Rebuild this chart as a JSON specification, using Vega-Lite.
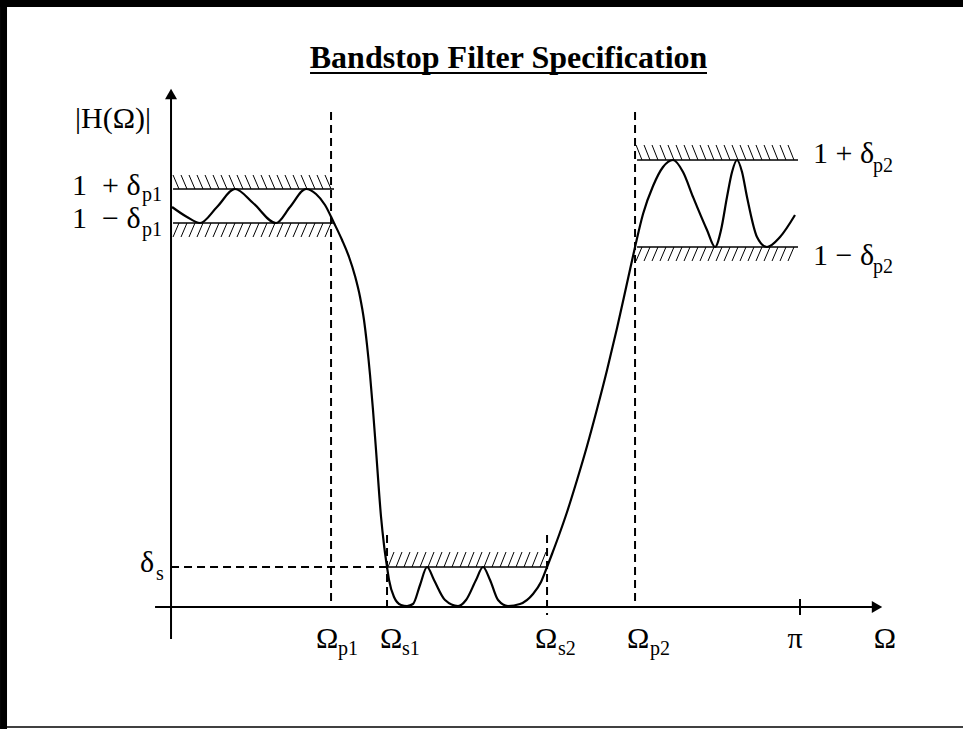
{
  "$schema": "https://vega.github.io/schema/vega-lite/v6.json",
  "width": 963,
  "height": 729,
  "autosize": "none",
  "padding": 0,
  "background": "white",
  "config": {"view": {"stroke": null}},
  "datasets": {
    "curve": [
      {"u": 0.0016, "h": 1.0}, {"u": 0.0254, "h": 0.975}, {"u": 0.0461, "h": 0.96}, {"u": 0.0731, "h": 1.0},
      {"u": 0.1017, "h": 1.045}, {"u": 0.1304, "h": 1.01}, {"u": 0.1669, "h": 0.96}, {"u": 0.1892, "h": 1.0},
      {"u": 0.2146, "h": 1.045}, {"u": 0.2305, "h": 1.0325}, {"u": 0.2448, "h": 1.005}, {"u": 0.2591, "h": 0.96},
      {"u": 0.2719, "h": 0.9175}, {"u": 0.283, "h": 0.875}, {"u": 0.2925, "h": 0.8275}, {"u": 0.3005, "h": 0.775},
      {"u": 0.3068, "h": 0.7175}, {"u": 0.3116, "h": 0.655}, {"u": 0.3164, "h": 0.58}, {"u": 0.3211, "h": 0.4925},
      {"u": 0.3259, "h": 0.3925}, {"u": 0.3339, "h": 0.225}, {"u": 0.3386, "h": 0.155}, {"u": 0.3434, "h": 0.1},
      {"u": 0.3466, "h": 0.0675}, {"u": 0.3545, "h": 0.025}, {"u": 0.3657, "h": 0.005}, {"u": 0.3752, "h": 0.0025},
      {"u": 0.3847, "h": 0.0075}, {"u": 0.3959, "h": 0.055}, {"u": 0.407, "h": 0.1}, {"u": 0.4181, "h": 0.0675},
      {"u": 0.4356, "h": 0.0175}, {"u": 0.4563, "h": 0.0025}, {"u": 0.469, "h": 0.0175}, {"u": 0.4849, "h": 0.0675},
      {"u": 0.496, "h": 0.1}, {"u": 0.5072, "h": 0.0675}, {"u": 0.5199, "h": 0.0175}, {"u": 0.5358, "h": 0.0025},
      {"u": 0.5548, "h": 0.0075}, {"u": 0.5755, "h": 0.0325}, {"u": 0.5882, "h": 0.0625}, {"u": 0.5978, "h": 0.1},
      {"u": 0.6057, "h": 0.1325}, {"u": 0.6169, "h": 0.18}, {"u": 0.6296, "h": 0.2375}, {"u": 0.6455, "h": 0.3175},
      {"u": 0.6614, "h": 0.4025}, {"u": 0.6773, "h": 0.495}, {"u": 0.6932, "h": 0.5925}, {"u": 0.7091, "h": 0.6975},
      {"u": 0.725, "h": 0.81}, {"u": 0.7377, "h": 0.9}, {"u": 0.7504, "h": 0.9825}, {"u": 0.7663, "h": 1.0525},
      {"u": 0.7822, "h": 1.1}, {"u": 0.7981, "h": 1.1175}, {"u": 0.814, "h": 1.0875},
      {"u": 0.8299, "h": 1.025}, {"u": 0.8521, "h": 0.9425}, {"u": 0.8649, "h": 0.9}, {"u": 0.8744, "h": 0.9425},
      {"u": 0.8839, "h": 1.025}, {"u": 0.8919, "h": 1.0875}, {"u": 0.8998, "h": 1.1175}, {"u": 0.9078, "h": 1.0875},
      {"u": 0.9157, "h": 1.025}, {"u": 0.9316, "h": 0.925}, {"u": 0.9475, "h": 0.9}, {"u": 0.9682, "h": 0.925},
      {"u": 0.992, "h": 0.98}
    ],
    "specLines": [
      {"u": 0.0032, "h": 1.045, "u2": 0.2591, "h2": 1.045},
      {"u": 0.0032, "h": 0.96, "u2": 0.2591, "h2": 0.96},
      {"u": 0.3434, "h": 0.1, "u2": 0.5978, "h2": 0.1},
      {"u": 0.7409, "h": 1.1175, "u2": 0.9968, "h2": 1.1175},
      {"u": 0.7409, "h": 0.9, "u2": 0.9968, "h2": 0.9}
    ],
    "dashLines": [
      {"u": 0.2544, "h": 1.2375, "u2": 0.2544, "h2": 0},
      {"u": 0.3434, "h": 0.18, "u2": 0.3434, "h2": 0},
      {"u": 0.5978, "h": 0.18, "u2": 0.5978, "h2": -0.02},
      {"u": 0.7377, "h": 1.2375, "u2": 0.7377, "h2": 0},
      {"u": 0.0, "h": 0.1, "u2": 0.3434, "h2": 0.1}
    ],
    "axes": [
      {"u": 0, "h": -0.08, "u2": 0, "h2": 1.27},
      {"u": -0.0254, "h": 0, "u2": 1.116, "h2": 0},
      {"u": 1, "h": 0.02, "u2": 1, "h2": -0.02}
    ],
    "arrows": [
      {"u": 0, "h": 1.2825, "dir": "up"},
      {"u": 1.1224, "h": 0, "dir": "right"}
    ],
    "hatches": [
      {"u": 0.0032, "h": 1.08, "u2": 0.0127, "h2": 1.045}, {"u": 0.0159, "h": 1.08, "u2": 0.0254, "h2": 1.045},
      {"u": 0.0286, "h": 1.08, "u2": 0.0381, "h2": 1.045}, {"u": 0.0413, "h": 1.08, "u2": 0.0509, "h2": 1.045},
      {"u": 0.0541, "h": 1.08, "u2": 0.0636, "h2": 1.045}, {"u": 0.0668, "h": 1.08, "u2": 0.0763, "h2": 1.045},
      {"u": 0.0795, "h": 1.08, "u2": 0.089, "h2": 1.045}, {"u": 0.0922, "h": 1.08, "u2": 0.1017, "h2": 1.045},
      {"u": 0.1049, "h": 1.08, "u2": 0.1145, "h2": 1.045}, {"u": 0.1176, "h": 1.08, "u2": 0.1272, "h2": 1.045},
      {"u": 0.1304, "h": 1.08, "u2": 0.1399, "h2": 1.045}, {"u": 0.1431, "h": 1.08, "u2": 0.1526, "h2": 1.045},
      {"u": 0.1558, "h": 1.08, "u2": 0.1653, "h2": 1.045}, {"u": 0.1685, "h": 1.08, "u2": 0.1781, "h2": 1.045},
      {"u": 0.1812, "h": 1.08, "u2": 0.1908, "h2": 1.045}, {"u": 0.194, "h": 1.08, "u2": 0.2035, "h2": 1.045},
      {"u": 0.2067, "h": 1.08, "u2": 0.2162, "h2": 1.045}, {"u": 0.2194, "h": 1.08, "u2": 0.2289, "h2": 1.045},
      {"u": 0.2321, "h": 1.08, "u2": 0.2417, "h2": 1.045}, {"u": 0.2448, "h": 1.08, "u2": 0.2544, "h2": 1.045},

      {"u": 0.0127, "h": 0.96, "u2": 0.0032, "h2": 0.925}, {"u": 0.0254, "h": 0.96, "u2": 0.0159, "h2": 0.925},
      {"u": 0.0381, "h": 0.96, "u2": 0.0286, "h2": 0.925}, {"u": 0.0509, "h": 0.96, "u2": 0.0413, "h2": 0.925},
      {"u": 0.0636, "h": 0.96, "u2": 0.0541, "h2": 0.925}, {"u": 0.0763, "h": 0.96, "u2": 0.0668, "h2": 0.925},
      {"u": 0.089, "h": 0.96, "u2": 0.0795, "h2": 0.925}, {"u": 0.1017, "h": 0.96, "u2": 0.0922, "h2": 0.925},
      {"u": 0.1145, "h": 0.96, "u2": 0.1049, "h2": 0.925}, {"u": 0.1272, "h": 0.96, "u2": 0.1176, "h2": 0.925},
      {"u": 0.1399, "h": 0.96, "u2": 0.1304, "h2": 0.925}, {"u": 0.1526, "h": 0.96, "u2": 0.1431, "h2": 0.925},
      {"u": 0.1653, "h": 0.96, "u2": 0.1558, "h2": 0.925}, {"u": 0.1781, "h": 0.96, "u2": 0.1685, "h2": 0.925},
      {"u": 0.1908, "h": 0.96, "u2": 0.1812, "h2": 0.925}, {"u": 0.2035, "h": 0.96, "u2": 0.194, "h2": 0.925},
      {"u": 0.2162, "h": 0.96, "u2": 0.2067, "h2": 0.925}, {"u": 0.2289, "h": 0.96, "u2": 0.2194, "h2": 0.925},
      {"u": 0.2417, "h": 0.96, "u2": 0.2321, "h2": 0.925}, {"u": 0.2544, "h": 0.96, "u2": 0.2448, "h2": 0.925},

      {"u": 0.345, "h": 0.1, "u2": 0.3545, "h2": 0.1375}, {"u": 0.3577, "h": 0.1, "u2": 0.3672, "h2": 0.1375},
      {"u": 0.3704, "h": 0.1, "u2": 0.3799, "h2": 0.1375}, {"u": 0.3831, "h": 0.1, "u2": 0.3926, "h2": 0.1375},
      {"u": 0.3959, "h": 0.1, "u2": 0.4054, "h2": 0.1375}, {"u": 0.4086, "h": 0.1, "u2": 0.4181, "h2": 0.1375},
      {"u": 0.4213, "h": 0.1, "u2": 0.4308, "h2": 0.1375}, {"u": 0.434, "h": 0.1, "u2": 0.4435, "h2": 0.1375},
      {"u": 0.4467, "h": 0.1, "u2": 0.4562, "h2": 0.1375}, {"u": 0.4595, "h": 0.1, "u2": 0.469, "h2": 0.1375},
      {"u": 0.4722, "h": 0.1, "u2": 0.4817, "h2": 0.1375}, {"u": 0.4849, "h": 0.1, "u2": 0.4944, "h2": 0.1375},
      {"u": 0.4976, "h": 0.1, "u2": 0.5071, "h2": 0.1375}, {"u": 0.5103, "h": 0.1, "u2": 0.5198, "h2": 0.1375},
      {"u": 0.5231, "h": 0.1, "u2": 0.5326, "h2": 0.1375}, {"u": 0.5358, "h": 0.1, "u2": 0.5453, "h2": 0.1375},
      {"u": 0.5485, "h": 0.1, "u2": 0.558, "h2": 0.1375}, {"u": 0.5612, "h": 0.1, "u2": 0.5707, "h2": 0.1375},
      {"u": 0.5739, "h": 0.1, "u2": 0.5834, "h2": 0.1375}, {"u": 0.5866, "h": 0.1, "u2": 0.5961, "h2": 0.1375},

      {"u": 0.7393, "h": 1.155, "u2": 0.7488, "h2": 1.1175}, {"u": 0.752, "h": 1.155, "u2": 0.7615, "h2": 1.1175},
      {"u": 0.7647, "h": 1.155, "u2": 0.7742, "h2": 1.1175}, {"u": 0.7774, "h": 1.155, "u2": 0.7869, "h2": 1.1175},
      {"u": 0.7901, "h": 1.155, "u2": 0.7996, "h2": 1.1175}, {"u": 0.8029, "h": 1.155, "u2": 0.8124, "h2": 1.1175},
      {"u": 0.8156, "h": 1.155, "u2": 0.8251, "h2": 1.1175}, {"u": 0.8283, "h": 1.155, "u2": 0.8378, "h2": 1.1175},
      {"u": 0.841, "h": 1.155, "u2": 0.8505, "h2": 1.1175}, {"u": 0.8537, "h": 1.155, "u2": 0.8632, "h2": 1.1175},
      {"u": 0.8665, "h": 1.155, "u2": 0.876, "h2": 1.1175}, {"u": 0.8792, "h": 1.155, "u2": 0.8887, "h2": 1.1175},
      {"u": 0.8919, "h": 1.155, "u2": 0.9014, "h2": 1.1175}, {"u": 0.9046, "h": 1.155, "u2": 0.9141, "h2": 1.1175},
      {"u": 0.9173, "h": 1.155, "u2": 0.9268, "h2": 1.1175}, {"u": 0.93, "h": 1.155, "u2": 0.9395, "h2": 1.1175},
      {"u": 0.9428, "h": 1.155, "u2": 0.9523, "h2": 1.1175}, {"u": 0.9555, "h": 1.155, "u2": 0.965, "h2": 1.1175},
      {"u": 0.9682, "h": 1.155, "u2": 0.9777, "h2": 1.1175}, {"u": 0.9809, "h": 1.155, "u2": 0.9904, "h2": 1.1175},

      {"u": 0.7488, "h": 0.9, "u2": 0.7393, "h2": 0.865}, {"u": 0.7615, "h": 0.9, "u2": 0.752, "h2": 0.865},
      {"u": 0.7742, "h": 0.9, "u2": 0.7647, "h2": 0.865}, {"u": 0.7869, "h": 0.9, "u2": 0.7774, "h2": 0.865},
      {"u": 0.7996, "h": 0.9, "u2": 0.7901, "h2": 0.865}, {"u": 0.8124, "h": 0.9, "u2": 0.8029, "h2": 0.865},
      {"u": 0.8251, "h": 0.9, "u2": 0.8156, "h2": 0.865}, {"u": 0.8378, "h": 0.9, "u2": 0.8283, "h2": 0.865},
      {"u": 0.8505, "h": 0.9, "u2": 0.841, "h2": 0.865}, {"u": 0.8632, "h": 0.9, "u2": 0.8537, "h2": 0.865},
      {"u": 0.876, "h": 0.9, "u2": 0.8665, "h2": 0.865}, {"u": 0.8887, "h": 0.9, "u2": 0.8792, "h2": 0.865},
      {"u": 0.9014, "h": 0.9, "u2": 0.8919, "h2": 0.865}, {"u": 0.9141, "h": 0.9, "u2": 0.9046, "h2": 0.865},
      {"u": 0.9268, "h": 0.9, "u2": 0.9173, "h2": 0.865}, {"u": 0.9395, "h": 0.9, "u2": 0.93, "h2": 0.865},
      {"u": 0.9523, "h": 0.9, "u2": 0.9428, "h2": 0.865}, {"u": 0.965, "h": 0.9, "u2": 0.9555, "h2": 0.865},
      {"u": 0.9777, "h": 0.9, "u2": 0.9682, "h2": 0.865}, {"u": 0.9904, "h": 0.9, "u2": 0.9809, "h2": 0.865}
    ],
    "frame": [
      {"side": "top", "u": -0.2719, "h": 1.50875, "u2": 1.2591, "h2": 1.50875},
      {"side": "left", "u": -0.2663, "h": -0.305, "u2": -0.2663, "h2": 1.5175},
      {"side": "bottom", "u": -0.2719, "h": -0.3, "u2": 1.2591, "h2": -0.3}
    ],
    "titleLine": [
      {"u": 0.221, "h": 1.335, "u2": 0.8521, "h2": 1.335}
    ],
    "titleText": [
      {"u": 0.5366, "h": 1.3475, "text": "Bandstop Filter Specification"}
    ],
    "mainLabels": [
      {"u": -0.1526, "h": 1.1975, "text": "|H(Ω)|"},
      {"u": -0.1574, "h": 1.03, "text": "1\u00a0\u00a0+ δ"},
      {"u": -0.1574, "h": 0.9475, "text": "1\u00a0\u00a0− δ"},
      {"u": 1.0207, "h": 1.11, "text": "1 + δ"},
      {"u": 1.0207, "h": 0.855, "text": "1 − δ"},
      {"u": -0.0493, "h": 0.0875, "text": "δ"},
      {"u": 0.2305, "h": -0.1025, "text": "Ω"},
      {"u": 0.3323, "h": -0.1025, "text": "Ω"},
      {"u": 0.5787, "h": -0.1025, "text": "Ω"},
      {"u": 0.725, "h": -0.1025, "text": "Ω"}
    ],
    "centerLabels": [
      {"u": 0.992, "h": -0.1025, "text": "π"},
      {"u": 1.1351, "h": -0.1025, "text": "Ω"}
    ],
    "subLabels": [
      {"u": -0.0461, "h": 1.015, "text": "p1"},
      {"u": -0.0461, "h": 0.9275, "text": "p1"},
      {"u": 1.1161, "h": 1.0875, "text": "p2"},
      {"u": 1.1161, "h": 0.835, "text": "p2"},
      {"u": -0.0238, "h": 0.0675, "text": "s"},
      {"u": 0.2655, "h": -0.12, "text": "p1"},
      {"u": 0.3673, "h": -0.12, "text": "s1"},
      {"u": 0.6153, "h": -0.12, "text": "s2"},
      {"u": 0.7615, "h": -0.12, "text": "p2"}
    ]
  },
  "layer": [
    {
      "data": {"name": "frame"},
      "transform": [{"filter": "datum.side === 'top'"}],
      "mark": {"type": "rule", "color": "black", "strokeWidth": 7},
      "encoding": {
        "x": {"field": "u", "type": "quantitative", "scale": {"domain": [-0.2719, 1.2591], "nice": false, "zero": false}, "axis": null},
        "y": {"field": "h", "type": "quantitative", "scale": {"domain": [-0.305, 1.5175], "nice": false, "zero": false}, "axis": null},
        "x2": {"field": "u2"}, "y2": {"field": "h2"}
      }
    },
    {
      "data": {"name": "frame"},
      "transform": [{"filter": "datum.side === 'left'"}],
      "mark": {"type": "rule", "color": "black", "strokeWidth": 7},
      "encoding": {
        "x": {"field": "u", "type": "quantitative", "axis": null},
        "y": {"field": "h", "type": "quantitative", "axis": null},
        "x2": {"field": "u2"}, "y2": {"field": "h2"}
      }
    },
    {
      "data": {"name": "frame"},
      "transform": [{"filter": "datum.side === 'bottom'"}],
      "mark": {"type": "rule", "color": "black", "strokeWidth": 1.5},
      "encoding": {
        "x": {"field": "u", "type": "quantitative", "axis": null},
        "y": {"field": "h", "type": "quantitative", "axis": null},
        "x2": {"field": "u2"}, "y2": {"field": "h2"}
      }
    },
    {
      "data": {"name": "hatches"},
      "mark": {"type": "rule", "color": "black", "strokeWidth": 1},
      "encoding": {
        "x": {"field": "u", "type": "quantitative", "axis": null},
        "y": {"field": "h", "type": "quantitative", "axis": null},
        "x2": {"field": "u2"}, "y2": {"field": "h2"}
      }
    },
    {
      "data": {"name": "specLines"},
      "mark": {"type": "rule", "color": "black", "strokeWidth": 1.5},
      "encoding": {
        "x": {"field": "u", "type": "quantitative", "axis": null},
        "y": {"field": "h", "type": "quantitative", "axis": null},
        "x2": {"field": "u2"}, "y2": {"field": "h2"}
      }
    },
    {
      "data": {"name": "dashLines"},
      "mark": {"type": "rule", "color": "black", "strokeWidth": 2, "strokeDash": [8, 5]},
      "encoding": {
        "x": {"field": "u", "type": "quantitative", "axis": null},
        "y": {"field": "h", "type": "quantitative", "axis": null},
        "x2": {"field": "u2"}, "y2": {"field": "h2"}
      }
    },
    {
      "data": {"name": "axes"},
      "mark": {"type": "rule", "color": "black", "strokeWidth": 2},
      "encoding": {
        "x": {"field": "u", "type": "quantitative", "axis": null},
        "y": {"field": "h", "type": "quantitative", "axis": null},
        "x2": {"field": "u2"}, "y2": {"field": "h2"}
      }
    },
    {
      "data": {"name": "arrows"},
      "mark": {"type": "point", "filled": true, "color": "black", "size": 144, "opacity": 1},
      "encoding": {
        "x": {"field": "u", "type": "quantitative", "axis": null},
        "y": {"field": "h", "type": "quantitative", "axis": null},
        "shape": {"field": "dir", "type": "nominal", "scale": {"domain": ["up", "right"], "range": ["triangle-up", "triangle-right"]}, "legend": null}
      }
    },
    {
      "data": {"name": "curve"},
      "mark": {"type": "line", "color": "black", "strokeWidth": 2.2, "interpolate": "monotone"},
      "encoding": {
        "x": {"field": "u", "type": "quantitative", "axis": null},
        "y": {"field": "h", "type": "quantitative", "axis": null}
      }
    },
    {
      "data": {"name": "titleLine"},
      "mark": {"type": "rule", "color": "black", "strokeWidth": 2},
      "encoding": {
        "x": {"field": "u", "type": "quantitative", "axis": null},
        "y": {"field": "h", "type": "quantitative", "axis": null},
        "x2": {"field": "u2"}, "y2": {"field": "h2"}
      }
    },
    {
      "data": {"name": "titleText"},
      "mark": {"type": "text", "font": "Liberation Serif", "fontWeight": "bold", "fontSize": 32, "align": "center", "baseline": "alphabetic", "color": "black"},
      "encoding": {
        "x": {"field": "u", "type": "quantitative", "axis": null},
        "y": {"field": "h", "type": "quantitative", "axis": null},
        "text": {"field": "text"}
      }
    },
    {
      "data": {"name": "mainLabels"},
      "mark": {"type": "text", "font": "Liberation Serif", "fontSize": 30, "align": "left", "baseline": "alphabetic", "color": "black"},
      "encoding": {
        "x": {"field": "u", "type": "quantitative", "axis": null},
        "y": {"field": "h", "type": "quantitative", "axis": null},
        "text": {"field": "text"}
      }
    },
    {
      "data": {"name": "centerLabels"},
      "mark": {"type": "text", "font": "Liberation Serif", "fontSize": 30, "align": "center", "baseline": "alphabetic", "color": "black"},
      "encoding": {
        "x": {"field": "u", "type": "quantitative", "axis": null},
        "y": {"field": "h", "type": "quantitative", "axis": null},
        "text": {"field": "text"}
      }
    },
    {
      "data": {"name": "subLabels"},
      "mark": {"type": "text", "font": "Liberation Serif", "fontSize": 20, "align": "left", "baseline": "alphabetic", "color": "black"},
      "encoding": {
        "x": {"field": "u", "type": "quantitative", "axis": null},
        "y": {"field": "h", "type": "quantitative", "axis": null},
        "text": {"field": "text"}
      }
    }
  ]
}
